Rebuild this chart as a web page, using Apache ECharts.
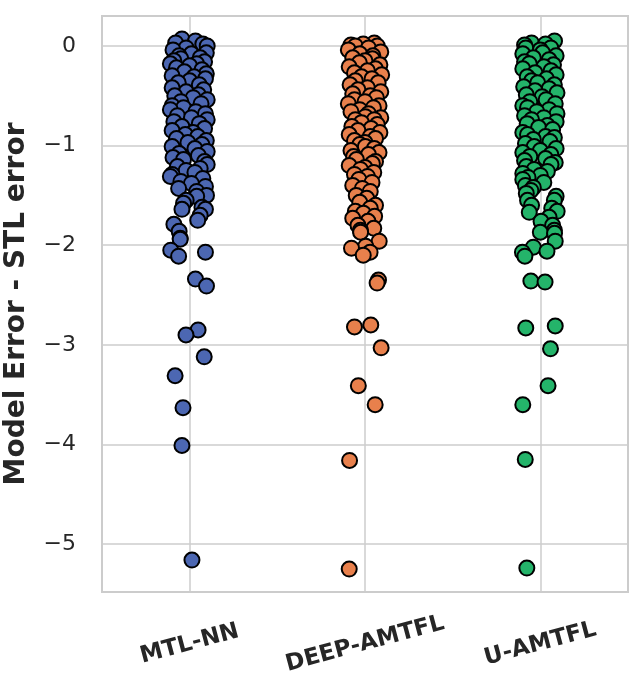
<!DOCTYPE html>
<html>
<head>
<meta charset="utf-8">
<script src="https://cdn.jsdelivr.net/npm/echarts@6/dist/echarts.min.js"></script>
<style>html,body{margin:0;padding:0;background:#fff;}#c{width:633px;height:684px;}</style>
</head>
<body>
<div id="c"></div>
<script>
var categories = ['MTL-NN', 'DEEP-AMTFL', 'U-AMTFL'];
var yTicks = [0, -1, -2, -3, -4, -5];

var mtlValues = [0.07,0.05,0.03,0.02,0.00,-0.02,-0.04,-0.07,-0.08,-0.10,-0.12,-0.13,-0.15,-0.16,-0.18,-0.18,-0.20,-0.22,-0.24,-0.26,-0.28,-0.30,-0.31,-0.33,-0.35,-0.37,-0.39,-0.42,-0.44,-0.46,-0.49,-0.50,-0.52,-0.54,-0.56,-0.58,-0.60,-0.62,-0.64,-0.66,-0.68,-0.70,-0.72,-0.74,-0.76,-0.78,-0.81,-0.83,-0.85,-0.87,-0.89,-0.91,-0.93,-0.95,-0.97,-0.99,-1.01,-1.03,-1.06,-1.08,-1.10,-1.12,-1.14,-1.16,-1.19,-1.21,-1.23,-1.25,-1.27,-1.29,-1.31,-1.33,-1.36,-1.38,-1.41,-1.43,-1.46,-1.50,-1.51,-1.55,-1.58,-1.62,-1.64,-1.64,-1.70,-1.75,-1.79,-1.86,-1.93,-1.94,-2.05,-2.11,-2.07,-2.34,-2.41,-2.85,-2.90,-3.12,-3.31,-3.63,-4.01,-5.16];
var mtlJitter = [-0.044,0.033,-0.08,0.075,0.10,-0.02,-0.095,0.095,0.01,-0.06,0.06,-0.05,-0.09,0.085,0.04,-0.11,0.0,-0.075,0.07,-0.03,0.095,-0.10,0.025,0.09,0.0,-0.065,0.055,-0.10,0.08,-0.02,0.05,-0.085,0.02,0.10,-0.05,0.065,-0.10,-0.035,-0.11,0.035,0.09,-0.07,0.01,0.10,-0.09,0.055,-0.044,0.085,-0.10,0.02,-0.025,0.046,-0.075,0.095,-0.01,0.07,-0.10,0.03,0.10,-0.06,0.05,-0.095,-0.035,0.085,0.10,-0.07,0.06,-0.02,0.03,-0.10,-0.11,0.075,-0.05,0.01,0.09,-0.063,0.04,0.096,0.04,-0.02,-0.035,0.07,-0.044,0.09,0.06,0.046,-0.09,-0.06,-0.054,-0.054,-0.108,-0.063,0.09,0.033,0.096,0.048,-0.021,0.083,-0.083,-0.038,-0.044,0.013];

var deepValues = [0.03,0.02,0.01,0.00,0.00,-0.02,-0.04,-0.06,-0.08,-0.10,-0.12,-0.13,-0.15,-0.17,-0.19,-0.21,-0.23,-0.25,-0.27,-0.29,-0.31,-0.33,-0.35,-0.37,-0.39,-0.42,-0.44,-0.46,-0.48,-0.50,-0.52,-0.54,-0.56,-0.58,-0.60,-0.62,-0.64,-0.66,-0.68,-0.71,-0.72,-0.74,-0.74,-0.77,-0.79,-0.81,-0.83,-0.85,-0.87,-0.89,-0.91,-0.93,-0.95,-0.97,-0.99,-1.01,-1.03,-1.05,-1.07,-1.09,-1.11,-1.14,-1.16,-1.18,-1.20,-1.22,-1.24,-1.27,-1.29,-1.31,-1.34,-1.37,-1.40,-1.43,-1.46,-1.50,-1.53,-1.57,-1.60,-1.63,-1.66,-1.68,-1.71,-1.73,-1.76,-1.80,-1.83,-1.85,-1.87,-1.96,-2.01,-2.03,-2.07,-2.10,-2.35,-2.38,-2.80,-2.82,-3.03,-3.41,-3.60,-4.16,-5.25];
var deepJitter = [0.053,-0.01,-0.08,-0.055,0.07,0.02,-0.095,0.09,-0.03,0.045,-0.07,0.042,0.0,-0.032,0.085,-0.09,0.06,0.014,-0.06,0.095,-0.02,0.04,-0.055,0.075,-0.085,0.014,-0.04,0.09,-0.07,0.03,0.065,-0.06,0.0,-0.095,0.08,0.048,-0.03,-0.08,0.02,0.002,0.09,-0.055,0.053,-0.02,0.07,-0.075,0.035,-0.04,0.085,-0.09,0.03,0.06,-0.06,0.0,-0.03,0.002,0.053,-0.08,0.08,0.02,-0.065,-0.049,0.06,0.042,-0.09,0.0,-0.026,0.05,-0.06,0.014,-0.035,0.04,-0.07,-0.015,0.03,-0.05,0.01,-0.03,0.06,0.03,-0.055,-0.009,0.055,-0.07,0.017,-0.04,0.05,-0.026,-0.025,0.081,0.004,-0.077,0.029,-0.01,0.077,0.069,0.033,-0.06,0.092,-0.038,0.058,-0.088,-0.09];

var uValues = [0.05,0.03,0.02,0.01,-0.02,-0.02,-0.04,-0.07,-0.08,-0.10,-0.12,-0.14,-0.16,-0.18,-0.19,-0.21,-0.23,-0.25,-0.27,-0.29,-0.31,-0.33,-0.35,-0.37,-0.39,-0.41,-0.43,-0.45,-0.47,-0.49,-0.51,-0.54,-0.56,-0.58,-0.60,-0.62,-0.64,-0.66,-0.68,-0.70,-0.72,-0.74,-0.76,-0.78,-0.80,-0.82,-0.84,-0.87,-0.89,-0.91,-0.92,-0.94,-0.96,-0.98,-1.01,-1.03,-1.05,-1.07,-1.09,-1.11,-1.13,-1.15,-1.17,-1.19,-1.21,-1.24,-1.26,-1.28,-1.30,-1.32,-1.34,-1.37,-1.40,-1.42,-1.45,-1.48,-1.51,-1.55,-1.55,-1.60,-1.63,-1.66,-1.67,-1.72,-1.76,-1.80,-1.85,-1.87,-1.88,-1.96,-2.02,-2.06,-2.07,-2.11,-2.36,-2.37,-2.81,-2.83,-3.04,-3.41,-3.60,-4.15,-5.24];
var uJitter = [0.081,-0.05,0.03,-0.09,-0.083,0.06,0.0,0.013,-0.10,0.09,-0.04,0.05,-0.09,-0.063,0.075,0.02,-0.10,0.061,-0.03,0.09,-0.075,0.035,-0.05,-0.015,0.08,-0.095,0.05,-0.03,0.095,-0.08,0.01,0.033,-0.06,0.085,-0.10,-0.073,0.05,-0.02,0.095,-0.09,0.02,-0.05,0.09,-0.075,0.04,-0.01,0.07,-0.10,-0.073,0.03,0.08,-0.04,0.055,-0.085,-0.035,0.09,0.0,-0.10,0.06,-0.06,0.03,-0.09,0.085,0.061,-0.08,-0.035,0.04,-0.10,0.0,-0.07,-0.10,0.02,-0.085,-0.04,-0.054,-0.08,0.09,0.08,-0.073,-0.05,0.065,0.096,-0.063,0.05,0.004,0.07,0.08,0.0,0.081,0.085,-0.04,0.038,-0.102,-0.088,-0.054,0.027,0.085,-0.083,0.058,0.044,-0.10,-0.086,-0.077];

var colors = ['#4c67b2', '#e8804c', '#24b46a'];

function pts(idx, vals, jit) {
  return vals.map(function (v, i) { return [idx + jit[i], v]; });
}
var seriesData = [pts(0, mtlValues, mtlJitter), pts(1, deepValues, deepJitter), pts(2, uValues, uJitter)];

var chart = echarts.init(document.getElementById('c'));
chart.setOption({
  animation: false,
  backgroundColor: '#ffffff',
  grid: { left: 102, right: 5, top: 16, bottom: 92, containLabel: false, outerBoundsMode: 'none', show: true, borderColor: '#cccccc', borderWidth: 2, backgroundColor: 'transparent' },
  xAxis: {
    type: 'value', min: -0.5, max: 2.5,
    axisLine: { show: false },
    axisTick: { show: false, customValues: [0, 1, 2] },
    axisLabel: {
      customValues: [0, 1, 2],
      formatter: function (v) { return categories[Math.round(v)]; },
      rotate: 15, align: 'center', verticalAlign: 'middle', margin: 52,
      fontFamily: 'DejaVu Sans', fontWeight: 'bold', fontSize: 23, color: '#262626'
    },
    splitLine: { show: true, lineStyle: { color: '#cccccc', width: 1.5 } }
  },
  yAxis: {
    type: 'value', min: -5.48, max: 0.3, splitNumber: 5,
    axisLine: { show: false }, axisTick: { show: false },
    axisLabel: {
      margin: 26, fontFamily: 'DejaVu Sans', fontSize: 22, color: '#262626',
      showMinLabel: false, showMaxLabel: false,
      formatter: function (v) {
        var r = Math.round(v);
        if (Math.abs(v - r) > 1e-6 || yTicks.indexOf(r) < 0) return '';
        return r < 0 ? '\u2212' + (-r) : String(r);
      }
    },
    splitLine: { show: true, lineStyle: { color: '#cccccc', width: 1.5 } },
    name: 'Model Error - STL error', nameLocation: 'middle', nameGap: 71,
    nameTextStyle: { fontFamily: 'DejaVu Sans', fontWeight: 'bold', fontSize: 28, color: '#262626' }
  },
  series: seriesData.map(function (d, i) {
    return {
      type: 'scatter', name: categories[i], data: d, symbol: 'circle', symbolSize: 15,
      itemStyle: { color: colors[i], borderColor: '#000000', borderWidth: 2, opacity: 1 },
      emphasis: { disabled: true }
    };
  })
});
</script>
</body>
</html>
